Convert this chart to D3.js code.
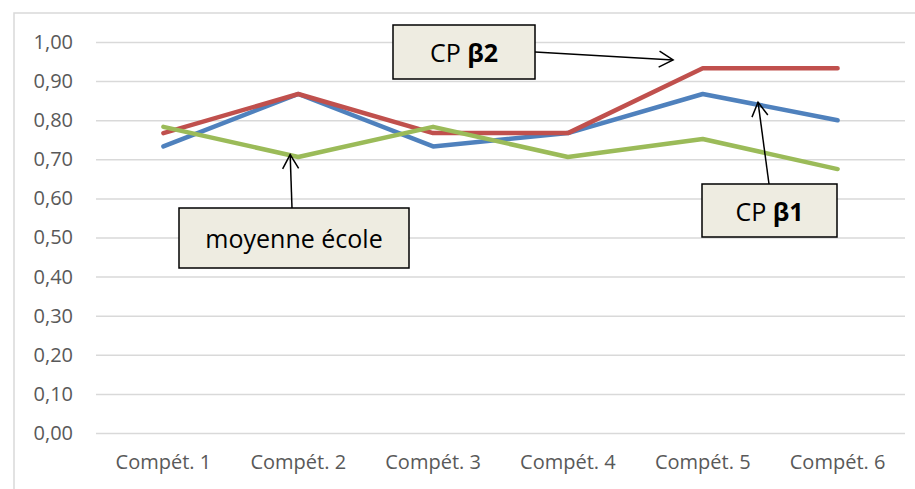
<!DOCTYPE html>
<html>
<head>
<meta charset="utf-8">
<script src="https://cdn.jsdelivr.net/npm/d3@7"></script>
<style>
  body { margin: 0; background: #fff; }
  text { font-family: "Open Sans", sans-serif; }
</style>
</head>
<body>
<div id="chart"></div>
<script>
// data
const categories = ["Compét. 1", "Compét. 2", "Compét. 3", "Compét. 4", "Compét. 5", "Compét. 6"]
const cpB1 = [0.733, 0.867, 0.733, 0.767, 0.867, 0.800]
const cpB2 = [0.767, 0.867, 0.767, 0.767, 0.933, 0.933]
const moyenneEcole = [0.783, 0.706, 0.783, 0.706, 0.752, 0.675]
const yTicks = [0, 0.1, 0.2, 0.3, 0.4, 0.5, 0.6, 0.7, 0.8, 0.9, 1.0]

const series = [
  { name: "CP β1", values: cpB1, color: "#4F81BD" },
  { name: "CP β2", values: cpB2, color: "#C0504D" },
  { name: "moyenne école", values: moyenneEcole, color: "#9BBB59" }
]

const width = 915
const height = 489
const margin = { top: 42, right: 10, bottom: 56, left: 96 }

const svg = d3.select("#chart")
  .append("svg")
    .attr("width", width)
    .attr("height", height)

// outer chart frame
svg.append("rect")
  .attr("x", 14).attr("y", 13)
  .attr("width", width + 20).attr("height", height + 20)
  .attr("fill", "none")
  .attr("stroke", "#D9D9D9")
  .attr("stroke-width", 1.5)

const x = d3.scaleBand()
  .domain(categories)
  .range([margin.left, width - margin.right])

const y = d3.scaleLinear()
  .domain([0, 1])
  .range([height - margin.bottom, margin.top])

// fractional category index (0-based) -> pixel
const xAt = i => x.range()[0] + x.step() * (i + 0.5)

// grid lines + y labels
const yAxis = svg.append("g")
  .attr("transform", `translate(${margin.left},0)`)
  .call(d3.axisLeft(y)
    .tickValues(yTicks)
    .tickSize(-(width - margin.right - margin.left))
    .tickPadding(23)
    .tickFormat(d => d3.format(".2f")(d).replace(".", ",")))
yAxis.select(".domain").remove()
yAxis.selectAll(".tick line")
  .attr("stroke", "#D9D9D9")
  .attr("stroke-width", 1.5)
yAxis.selectAll(".tick text")
  .attr("fill", "#595959")
  .style("font-size", "20px")

// x labels
const xAxis = svg.append("g")
  .attr("transform", `translate(0,${height - margin.bottom})`)
  .call(d3.axisBottom(x).tickSize(0).tickPadding(22))
xAxis.select(".domain").remove()
xAxis.selectAll(".tick text")
  .attr("fill", "#595959")
  .style("font-size", "20px")

// lines
const line = d3.line()
  .x((d, i) => x(categories[i]) + x.bandwidth() / 2)
  .y(d => y(d))

svg.append("g")
  .selectAll("path")
  .data(series)
  .join("path")
    .attr("d", d => line(d.values))
    .attr("fill", "none")
    .attr("stroke", d => d.color)
    .attr("stroke-width", 4.5)
    .attr("stroke-linecap", "round")
    .attr("stroke-linejoin", "round")

// open arrow head
svg.append("defs").append("marker")
  .attr("id", "arrow")
  .attr("markerUnits", "userSpaceOnUse")
  .attr("viewBox", "-16 -10 20 20")
  .attr("refX", 0).attr("refY", 0)
  .attr("markerWidth", 20).attr("markerHeight", 20)
  .attr("orient", "auto")
  .append("path")
    .attr("d", "M-14,-8 L0,0 L-14,8")
    .attr("fill", "none")
    .attr("stroke", "#000")
    .attr("stroke-width", 1.5)

// callouts: box in pixels, arrow tip in data space (category index, value)
const callouts = [
  { label: ["CP ", "β2"], box: [393, 25, 142, 54], from: [535, 52], tip: [3.78, 0.954] },
  { label: ["moyenne école", ""], box: [179, 208, 230, 60], from: [292, 208], tip: [0.94, 0.712] },
  { label: ["CP ", "β1"], box: [702, 184, 135, 53], from: [769, 184], tip: [4.41, 0.846] }
]

const notes = svg.append("g")
  .selectAll("g")
  .data(callouts)
  .join("g")

notes.append("line")
  .attr("x1", d => d.from[0]).attr("y1", d => d.from[1])
  .attr("x2", d => xAt(d.tip[0])).attr("y2", d => y(d.tip[1]))
  .attr("stroke", "#000")
  .attr("stroke-width", 1.5)
  .attr("marker-end", "url(#arrow)")

notes.append("rect")
  .attr("x", d => d.box[0]).attr("y", d => d.box[1])
  .attr("width", d => d.box[2]).attr("height", d => d.box[3])
  .attr("fill", "#EEECE1")
  .attr("stroke", "#000")
  .attr("stroke-width", 1.5)

const labels = notes.append("text")
  .attr("x", d => d.box[0] + d.box[2] / 2)
  .attr("y", d => d.box[1] + d.box[3] / 2)
  .attr("text-anchor", "middle")
  .attr("dominant-baseline", "central")
  .attr("fill", "#000")
  .style("font-size", "25px")
labels.append("tspan").text(d => d.label[0])
labels.append("tspan").attr("font-weight", "bold").text(d => d.label[1])
</script>
</body>
</html>
